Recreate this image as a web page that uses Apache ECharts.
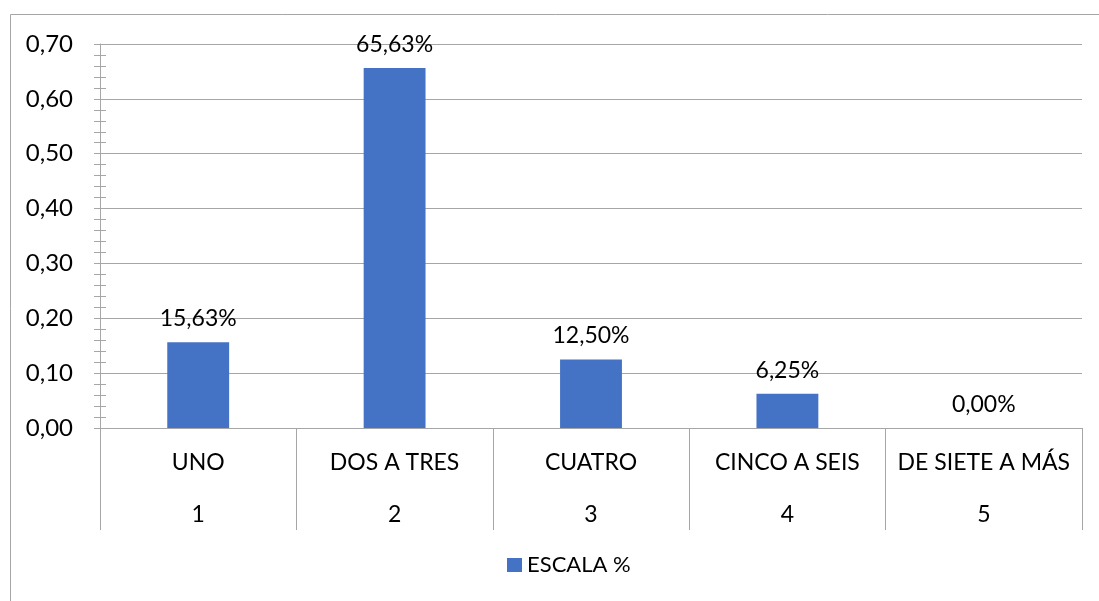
<!DOCTYPE html>
<html><head><meta charset="utf-8">
<script src="https://cdn.jsdelivr.net/npm/echarts@6/dist/echarts.min.js"></script>
<style>html,body{margin:0;padding:0;background:#fff}#c{width:1099px;height:601px}</style>
</head><body><div id="c"></div>
<script>
var categories = ['UNO', 'DOS A TRES', 'CUATRO', 'CINCO A SEIS', 'DE SIETE A MÁS'];
var codes = ['1', '2', '3', '4', '5'];
var values = [0.1563, 0.6563, 0.125, 0.0625, 0];
var seriesName = 'ESCALA %';
var yMin = 0, yMax = 0.7, yInterval = 0.1;

var FONT = 'Lato';
var gridColor = '#a6a6a6';
var chart = echarts.init(document.getElementById('c'));
var fmt = function (v) { return v.toFixed(2).replace('.', ','); };
chart.setOption({
  animation: false,
  textStyle: { fontFamily: FONT },
  graphic: [{ type: 'rect', shape: { x: 10.5, y: 14.5, width: 1200, height: 700 }, style: { fill: 'none', stroke: gridColor, lineWidth: 1 } }],
  grid: { left: 100, right: 17, top: 44, bottom: 173 },
  legend: {
    data: [seriesName], bottom: 20, left: 502, icon: 'rect', itemWidth: 15, itemHeight: 14, itemGap: 7,
    textStyle: { fontSize: 22, color: '#000', fontFamily: FONT }
  },
  xAxis: {
    type: 'category',
    data: categories.map(function (c, i) { return c + '\n' + codes[i]; }),
    axisLine: { lineStyle: { color: gridColor } },
    axisTick: { show: true, length: 102, lineStyle: { color: gridColor } },
    axisLabel: { margin: 9, color: '#000', fontSize: 23, lineHeight: 52, fontFamily: FONT, interval: 0 }
  },
  yAxis: [{
    type: 'value', min: yMin, max: yMax, interval: yInterval,
    axisLine: { show: true, lineStyle: { color: gridColor } },
    axisTick: { show: true, length: 6, lineStyle: { color: gridColor } },
    minorTick: { show: true, splitNumber: 5, length: 6, lineStyle: { color: gridColor } },
    splitLine: { lineStyle: { color: gridColor } },
    axisLabel: { formatter: fmt, color: '#000', fontSize: 24, margin: 27, fontFamily: FONT }
  }, {
    type: 'value', min: yMin, max: yMax, interval: yInterval, position: 'left',
    axisLine: { show: false },
    axisTick: { show: false, inside: true },
    minorTick: { show: true, splitNumber: 5, length: 6, lineStyle: { color: gridColor } },
    splitLine: { show: false },
    axisLabel: { show: false }
  }],
  series: [{
    name: seriesName, type: 'bar', data: values, barWidth: '31.5%',
    itemStyle: { color: '#4472C4' },
    label: {
      show: true, position: 'top', distance: 12, color: '#000', fontSize: 23, fontFamily: FONT,
      formatter: function (p) { return (p.value * 100).toFixed(2).replace('.', ',') + '%'; }
    }
  }]
});
</script></body></html>
